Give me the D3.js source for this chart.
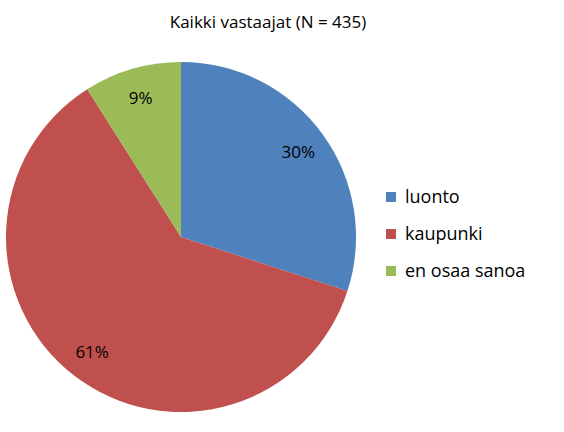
<!DOCTYPE html>
<html>
<head>
<meta charset="utf-8">
<script src="https://cdn.jsdelivr.net/npm/d3@7"></script>
<style>
  body { margin: 0; background: #fff; }
  text { font-family: "Open Sans", "Liberation Sans", sans-serif; fill: #000; }
</style>
</head>
<body>
<svg id="chart" width="564" height="432"></svg>
<script>
const categories = ['luonto', 'kaupunki', 'en osaa sanoa'];
const values = [30, 61, 9];
const colors = ['#4F81BD', '#C0504D', '#9BBB59'];
const title = 'Kaikki vastaajat (N = 435)';

const width = 564;
const height = 432;
const cx = 181;
const cy = 237;
const radius = 175;

const svg = d3.select('#chart');

svg.append('text')
  .attr('x', 268)
  .attr('y', 28)
  .attr('text-anchor', 'middle')
  .attr('font-size', 17)
  .text(title);

const data = categories.map((c, i) => ({ label: c, value: values[i], color: colors[i] }));

const pie = d3.pie().sort(null).value((d) => d.value);
const arc = d3.arc().innerRadius(0).outerRadius(radius);
const labelArc = d3.arc().innerRadius(145).outerRadius(145);

const g = svg.append('g').attr('transform', `translate(${cx}, ${cy})`);
const arcs = pie(data);

g.selectAll('path')
  .data(arcs)
  .join('path')
  .attr('d', arc)
  .attr('fill', (d) => d.data.color);

g.selectAll('text')
  .data(arcs)
  .join('text')
  .attr('transform', (d) => `translate(${labelArc.centroid(d)})`)
  .attr('text-anchor', 'middle')
  .attr('dy', '0.35em')
  .attr('font-size', 17)
  .text((d) => `${d.data.value}%`);

const legendY = d3.scalePoint().domain(categories).range([197, 271]);

const legend = svg.append('g');
legend.selectAll('rect')
  .data(data)
  .join('rect')
  .attr('x', 386)
  .attr('y', (d) => legendY(d.label) - 5)
  .attr('width', 10)
  .attr('height', 10)
  .attr('fill', (d) => d.color);

legend.selectAll('text')
  .data(data)
  .join('text')
  .attr('x', 405)
  .attr('y', (d) => legendY(d.label))
  .attr('dy', '0.35em')
  .attr('font-size', 18)
  .text((d) => d.label);
</script>
</body>
</html>
